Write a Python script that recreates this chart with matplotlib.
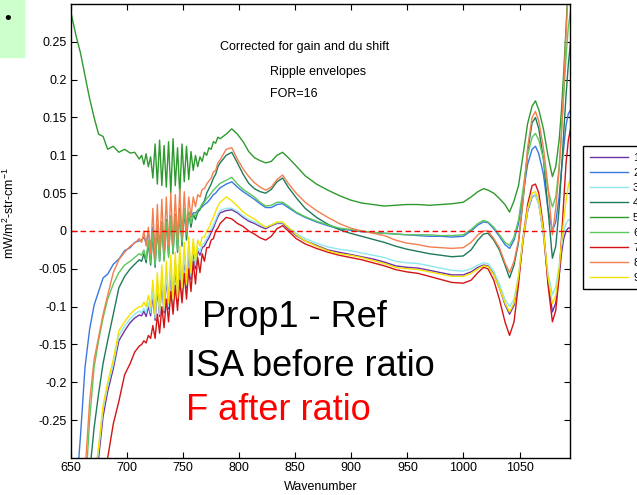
import matplotlib
matplotlib.use("Agg")
import matplotlib.pyplot as plt
from matplotlib.patches import Rectangle
import numpy as np

plt.rcParams['font.family'] = ['Liberation Sans', 'DejaVu Sans']
plt.rcParams['mathtext.default'] = 'regular'

# ---------------------------------------------------------------------------
# Spectra (mW/m2-str-cm-1 vs wavenumber)
# ---------------------------------------------------------------------------
wavenumber = np.array([
    642.4, 646.4, 650.5, 654.5, 658.5, 662.5, 666.6, 670.6, 674.6, 678.6, 682.7, 687.7, 692.7, 697.8, 702.8, 706.8, 710.9,
    713, 715, 717, 719, 721, 723, 725, 727, 729, 731, 733, 735, 737, 739, 741, 743, 745, 747,
    749, 751, 753, 755, 757, 759, 761, 763, 765, 767, 769, 771, 773, 775, 777, 779, 781, 783,
    788.4, 793.4, 798.4, 803.5, 808.5, 813.5, 818.6, 823.6, 828.6, 833.7, 838.7, 843.7, 850.8, 858.8, 868.9,
    879.0, 889.0, 899.1, 909.2, 919.2, 929.3, 939.4, 949.4, 959.5, 969.6, 979.6, 989.7, 999.8, 1006.8, 1012.9,
    1017.9, 1021.9, 1027.0, 1032.0, 1037.0, 1041.1, 1045.1, 1049.1, 1053.1, 1057.2, 1061.2, 1064.2, 1067.2,
    1071.3, 1075.3, 1079.3,
    1082.3, 1085.3, 1087.4, 1089.4, 1091.5, 1093.5, 1095.5, 1097])

s1 = [-0.72, -0.67, -0.62, -0.57, -0.52, -0.455, -0.395, -0.345, -0.3, -0.245, -0.212, -0.182, -0.145, -0.132, -0.121, -0.115, -0.111,
      -0.112, -0.106, -0.113, -0.1, -0.112, -0.085, -0.118, -0.075, -0.113, -0.066, -0.108, -0.06, -0.103, -0.052, -0.098, -0.046, -0.092, -0.04,
      -0.084, -0.033, -0.075, -0.027, -0.064, -0.025, -0.05, -0.026, -0.032, -0.022, -0.02, -0.014, -0.009, -0.002, 0.004, 0.012, 0.019, 0.024,
      0.027, 0.028, 0.024, 0.018, 0.013, 0.01, 0.006, 0.003, 0.007, 0.01, 0.01, 0.003, -0.006, -0.013, -0.019,
      -0.025, -0.028, -0.031, -0.034, -0.037, -0.041, -0.046, -0.048, -0.049, -0.052, -0.055, -0.058, -0.058, -0.054, -0.048,
      -0.045, -0.046, -0.057, -0.075, -0.097, -0.11, -0.098, -0.063, -0.013, 0.026, 0.045, 0.048, 0.036,
      -0.004, -0.065, -0.107,
      -0.095, -0.06, -0.03, -0.01, 0.0, 0.004, 0.004, 0.003]

s2 = [-0.6, -0.5, -0.42, -0.35, -0.27, -0.18, -0.13, -0.098, -0.08, -0.062, -0.057, -0.044, -0.037, -0.026, -0.022, -0.015, -0.013,
      -0.012, -0.008, -0.016, -0.002, -0.022, 0.005, -0.025, 0.008, -0.02, 0.01, -0.02, 0.012, -0.015, 0.015, -0.012, 0.018, -0.008, 0.02,
      0.0, 0.022, 0.005, 0.024, 0.018, 0.024, 0.024, 0.027, 0.03, 0.032, 0.035, 0.037, 0.04, 0.044, 0.048, 0.05, 0.054, 0.057,
      0.062, 0.065, 0.058, 0.052, 0.047, 0.042, 0.036, 0.031, 0.031, 0.035, 0.036, 0.031, 0.024, 0.018, 0.012,
      0.007, 0.003, 0.001, -0.001, -0.002, -0.003, -0.004, -0.005, -0.006, -0.007, -0.007, -0.008, -0.007, 0.0, 0.008,
      0.012, 0.011, 0.003, -0.007, -0.018, -0.023, -0.012, 0.01, 0.048, 0.088, 0.108, 0.112, 0.102,
      0.075, 0.03, 0.0,
      0.012, 0.045, 0.08, 0.11, 0.14, 0.155, 0.16, 0.16]

s3 = [-0.705, -0.655, -0.605, -0.555, -0.505, -0.445, -0.385, -0.335, -0.29, -0.236, -0.205, -0.176, -0.138, -0.126, -0.116, -0.11, -0.106,
      -0.108, -0.102, -0.108, -0.095, -0.108, -0.078, -0.115, -0.07, -0.11, -0.06, -0.105, -0.055, -0.1, -0.045, -0.095, -0.04, -0.09, -0.035,
      -0.08, -0.028, -0.072, -0.022, -0.06, -0.02, -0.045, -0.022, -0.028, -0.018, -0.016, -0.01, -0.005, 0.002, 0.008, 0.015, 0.022, 0.027,
      0.03, 0.03, 0.026, 0.02, 0.015, 0.012, 0.008, 0.005, 0.008, 0.011, 0.011, 0.005, -0.003, -0.01, -0.016,
      -0.021, -0.024, -0.026, -0.029, -0.032, -0.035, -0.04, -0.042, -0.043, -0.046, -0.049, -0.052, -0.053, -0.05, -0.045,
      -0.042, -0.043, -0.053, -0.07, -0.09, -0.1, -0.09, -0.058, -0.01, 0.028, 0.046, 0.048, 0.035,
      -0.005, -0.055, -0.084,
      -0.074, -0.045, -0.02, 0.0, 0.01, 0.015, 0.015, 0.015]

s4 = [-0.7, -0.6, -0.55, -0.5, -0.44, -0.38, -0.32, -0.26, -0.215, -0.175, -0.145, -0.11, -0.075, -0.06, -0.05, -0.044, -0.038,
      -0.04, -0.03, -0.042, -0.015, -0.045, -0.005, -0.048, 0.005, -0.04, 0.012, -0.038, 0.015, -0.032, 0.02, -0.03, 0.022, -0.028, 0.03,
      -0.02, 0.028, -0.012, 0.025, 0.005, 0.022, 0.015, 0.025, 0.028, 0.035, 0.04, 0.05, 0.056, 0.062, 0.07, 0.075, 0.085, 0.09,
      0.1, 0.104, 0.09, 0.075, 0.063, 0.056, 0.052, 0.05, 0.055, 0.065, 0.07, 0.058, 0.044, 0.03, 0.018,
      0.009, 0.002, -0.003, -0.007, -0.011, -0.015, -0.02, -0.024, -0.027, -0.03, -0.032, -0.034, -0.033, -0.025, -0.012,
      -0.004, -0.003, -0.012, -0.025, -0.045, -0.062, -0.045, -0.015, 0.04, 0.105, 0.143, 0.15, 0.135,
      0.095, 0.03, -0.036,
      -0.02, 0.03, 0.08, 0.13, 0.18, 0.22, 0.25, 0.27]

s5 = [0.34, 0.32, 0.285, 0.258, 0.235, 0.205, 0.175, 0.15, 0.128, 0.125, 0.108, 0.112, 0.104, 0.108, 0.103, 0.104, 0.095,
      0.10, 0.088, 0.102, 0.085, 0.098, 0.07, 0.115, 0.062, 0.12, 0.06, 0.113, 0.058, 0.118, 0.05, 0.122, 0.06, 0.11, 0.048,
      0.115, 0.065, 0.112, 0.068, 0.105, 0.08, 0.1, 0.085, 0.098, 0.092, 0.104, 0.1, 0.11, 0.108, 0.118, 0.116, 0.124, 0.122,
      0.128, 0.135, 0.128, 0.118, 0.105, 0.097, 0.093, 0.09, 0.092, 0.1, 0.104, 0.097, 0.086, 0.073, 0.062,
      0.054, 0.047, 0.041, 0.037, 0.035, 0.033, 0.034, 0.035, 0.035, 0.034, 0.035, 0.036, 0.038, 0.045, 0.052,
      0.056, 0.054, 0.05, 0.043, 0.035, 0.025, 0.04, 0.06, 0.1, 0.142, 0.165, 0.172, 0.16,
      0.135, 0.1, 0.072,
      0.085, 0.12, 0.16, 0.21, 0.27, 0.33, 0.38, 0.42]

s6 = [-0.6, -0.55, -0.5, -0.45, -0.4, -0.35, -0.25, -0.18, -0.145, -0.115, -0.09, -0.07, -0.055, -0.045, -0.04, -0.035, -0.03,
      -0.032, -0.025, -0.038, -0.012, -0.042, 0.0, -0.045, 0.008, -0.04, 0.01, -0.04, 0.012, -0.035, 0.018, -0.03, 0.02, -0.025, 0.025,
      -0.015, 0.03, -0.005, 0.025, 0.01, 0.022, 0.02, 0.028, 0.03, 0.036, 0.038, 0.043, 0.046, 0.05, 0.054, 0.057, 0.06, 0.063,
      0.067, 0.071, 0.062, 0.055, 0.05, 0.045, 0.038, 0.033, 0.034, 0.038, 0.038, 0.033, 0.025, 0.019, 0.013,
      0.008, 0.004, 0.002, 0.0, -0.002, -0.003, -0.004, -0.005, -0.005, -0.005, -0.006, -0.006, -0.005, 0.002, 0.01,
      0.014, 0.012, 0.005, -0.005, -0.015, -0.019, -0.008, 0.015, 0.055, 0.1, 0.124, 0.129, 0.12,
      0.095, 0.055, 0.032,
      0.045, 0.085, 0.13, 0.18, 0.23, 0.27, 0.29, 0.3]

s7 = [-0.8, -0.75, -0.7, -0.65, -0.6, -0.55, -0.48, -0.42, -0.37, -0.33, -0.3, -0.255, -0.225, -0.19, -0.175, -0.16, -0.152,
      -0.15, -0.145, -0.148, -0.138, -0.142, -0.125, -0.142, -0.11, -0.135, -0.1, -0.128, -0.09, -0.12, -0.08, -0.11, -0.072, -0.105, -0.065,
      -0.095, -0.056, -0.09, -0.05, -0.08, -0.04, -0.07, -0.035, -0.055, -0.03, -0.04, -0.022, -0.022, -0.012, -0.01, 0.0, 0.004, 0.01,
      0.018, 0.016, 0.01, 0.006, 0.0, -0.004, -0.009, -0.012, -0.007, 0.003, 0.007, 0.0, -0.01, -0.017, -0.023,
      -0.028, -0.032, -0.035, -0.038, -0.042, -0.046, -0.051, -0.054, -0.056, -0.06, -0.064, -0.068, -0.069, -0.065, -0.055,
      -0.048, -0.05, -0.065, -0.09, -0.12, -0.138, -0.12, -0.07, -0.01, 0.035, 0.06, 0.062, 0.05,
      0.005, -0.07, -0.12,
      -0.105, -0.06, -0.01, 0.04, 0.09, 0.12, 0.135, 0.14]

s8 = [-0.6, -0.55, -0.5, -0.44, -0.38, -0.32, -0.225, -0.17, -0.14, -0.11, -0.085, -0.055, -0.038, -0.028, -0.02, -0.016, -0.01,
      -0.015, 0.0, -0.02, 0.005, -0.03, 0.03, -0.035, 0.035, -0.028, 0.042, -0.025, 0.045, -0.02, 0.05, -0.018, 0.048, -0.012, 0.055,
      -0.008, 0.052, 0.0, 0.045, 0.018, 0.045, 0.032, 0.048, 0.045, 0.055, 0.056, 0.062, 0.066, 0.07, 0.078, 0.08, 0.09, 0.094,
      0.108, 0.11, 0.095, 0.082, 0.072, 0.064, 0.058, 0.054, 0.058, 0.068, 0.074, 0.063, 0.05, 0.038, 0.027,
      0.018, 0.01, 0.004, 0.0, -0.003, -0.006, -0.012, -0.016, -0.018, -0.021, -0.022, -0.023, -0.022, -0.015, -0.005,
      0.0, 0.0, -0.01, -0.022, -0.042, -0.055, -0.04, -0.012, 0.04, 0.11, 0.15, 0.158, 0.145,
      0.11, 0.06, -0.005,
      0.03, 0.08, 0.13, 0.19, 0.26, 0.32, 0.37, 0.4]

s9 = [-0.7, -0.65, -0.6, -0.55, -0.5, -0.44, -0.38, -0.33, -0.285, -0.23, -0.2, -0.17, -0.132, -0.12, -0.11, -0.104, -0.1,
      -0.1, -0.094, -0.1, -0.085, -0.1, -0.065, -0.11, -0.055, -0.105, -0.045, -0.1, -0.04, -0.095, -0.032, -0.09, -0.028, -0.088, -0.02,
      -0.075, -0.015, -0.07, -0.008, -0.055, -0.01, -0.04, -0.012, -0.02, -0.008, -0.008, 0.0, 0.004, 0.012, 0.018, 0.026, 0.033, 0.038,
      0.045, 0.04, 0.033, 0.025, 0.02, 0.016, 0.01, 0.005, 0.008, 0.012, 0.012, 0.005, -0.005, -0.013, -0.02,
      -0.026, -0.03, -0.032, -0.035, -0.039, -0.043, -0.048, -0.05, -0.051, -0.054, -0.057, -0.06, -0.06, -0.056, -0.05,
      -0.046, -0.047, -0.058, -0.075, -0.095, -0.107, -0.095, -0.06, -0.01, 0.03, 0.05, 0.052, 0.04,
      0.0, -0.06, -0.096,
      -0.085, -0.05, -0.015, 0.015, 0.04, 0.06, 0.07, 0.075]

series = [s1, s2, s3, s4, s5, s6, s7, s8, s9]
labels = ['1', '2', '3', '4', '5', '6', '7', '8', '9']
colors = ['#7030a8', '#3a78e0', '#8ee8ee', '#1f7a5a', '#2e9a2e',
          '#5cc85c', '#d41414', '#f2804f', '#f4e200']

xticks = [650, 700, 750, 800, 850, 900, 950, 1000, 1050]
yticks = [-0.25, -0.2, -0.15, -0.1, -0.05, 0, 0.05, 0.1, 0.15, 0.2, 0.25]
ytick_labels = ['-0.25', '-0.2', '-0.15', '-0.1', '-0.05', '0',
                '0.05', '0.1', '0.15', '0.2', '0.25']

# ---------------------------------------------------------------------------
# Plot
# ---------------------------------------------------------------------------
W, H = 637, 495
fig = plt.figure(figsize=(W / 100, H / 100), dpi=100)
ax = fig.add_axes([71 / W, 1 - 458 / H, (570 - 71) / W, (458 - 4) / H])

for vals, lab, col in zip(series, labels, colors):
    ax.plot(wavenumber, vals, color=col, lw=1.0, label=lab)
ax.axhline(0, color='#ff0000', lw=1.0, ls=(0, (4, 2.5)))

ax.set_xlim(650, 1095)
ax.set_ylim(-0.3, 0.3)
ax.set_xticks(xticks)
ax.set_xticklabels([str(t) for t in xticks])
ax.set_yticks(yticks)
ax.set_yticklabels(ytick_labels)
ax.tick_params(direction='in', top=True, right=True, length=4, width=0.8,
               labelsize=9, pad=3)
for sp in ax.spines.values():
    sp.set_linewidth(1.0)

ax.set_xlabel("Wavenumber", fontsize=9)
ax.xaxis.set_label_coords(0.5, -0.05)
ax.set_ylabel("mW/m$^{2}$-str-cm$^{-1}$", fontsize=9)
ax.yaxis.set_label_coords(-0.108, 0.54)

# annotations
fig.text(220 / W, 1 - 47 / H, "Corrected for gain and du shift", fontsize=9, va='center')
fig.text(270 / W, 1 - 72 / H, "Ripple envelopes", fontsize=9, va='center')
fig.text(270 / W, 1 - 94 / H, "FOR=16", fontsize=9, va='center')

fig.text(202 / W, 1 - 327 / H, "Prop1 - Ref", fontsize=26, va='baseline')
fig.text(186 / W, 1 - 376 / H, "ISA before ratio", fontsize=26, va='baseline')
fig.text(186 / W, 1 - 420 / H, "F after ratio", fontsize=26, va='baseline', color='red')

# green slide box with bullet
fig.patches.append(Rectangle((0, 1 - 57 / H), 24 / W, 57 / H,
                             transform=fig.transFigure, color='#ccffcc', zorder=0))
fig.text(8 / W, 1 - 20 / H, u"\u2022", fontsize=14, ha='center', va='center')

# legend sits at the right edge; like the reference, its labels run off the picture
leg = fig.legend(loc='upper left', bbox_to_anchor=(583 / W, 1 - 146 / H),
                 fontsize=8, frameon=True, fancybox=False, edgecolor='black',
                 framealpha=1, borderaxespad=0, handlelength=3.45,
                 handletextpad=0.45, labelspacing=0.45, borderpad=0.6)
leg.get_frame().set_linewidth(1.0)

fig.savefig("out.png", dpi=100)
